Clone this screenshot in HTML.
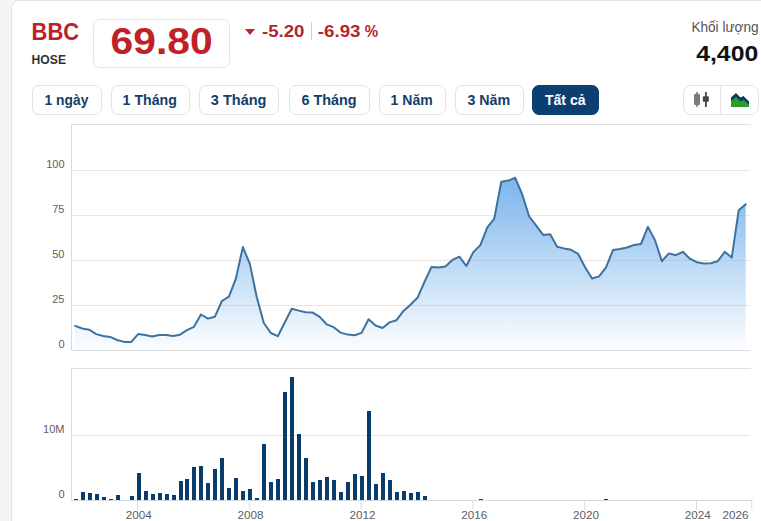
<!DOCTYPE html>
<html><head><meta charset="utf-8">
<style>
html,body{margin:0;padding:0;}
body{width:761px;height:521px;overflow:hidden;background:#f5f5f5;position:relative;font-family:"Liberation Sans",sans-serif;}
.card{position:absolute;left:11px;top:0;width:820px;height:600px;background:#fff;border:1px solid #e2e2e2;border-radius:8px;box-sizing:border-box;}
.pbox{position:absolute;left:93px;top:19px;width:137px;height:49px;border:1px solid #e6e6e6;border-radius:7px;box-sizing:border-box;}
.div{position:absolute;left:310.5px;top:22px;width:1px;height:18px;background:#d0d0d0;}
.tri{position:absolute;left:245px;top:28.5px;width:0;height:0;border-left:5.5px solid transparent;border-right:5.5px solid transparent;border-top:6px solid #c1232b;}
.btn{position:absolute;top:85px;height:29.5px;border:1px solid #e3e3e3;border-radius:7px;box-sizing:border-box;font-size:14px;font-weight:bold;color:#173f66;text-align:center;line-height:27px;background:#fff;}
.btn.on{background:#0b3f72;border-color:#0b3f72;color:#fff;}
.grp{position:absolute;left:683px;top:85px;width:75.5px;height:29.5px;border:1px solid #e3e3e3;border-radius:8px;box-sizing:border-box;}
.gdiv{position:absolute;left:720px;top:86px;width:1px;height:28px;background:#e3e3e3;}
svg{position:absolute;left:0;top:0;}
svg text{font-family:"Liberation Sans",sans-serif;}
svg text.ax{font-size:11px;fill:#606060;}
</style></head><body>
<div class="card"></div>
<div class="pbox"></div>
<div class="tri"></div>
<div class="div"></div>
<div class="btn" style="left:32px;width:69.5px"></div>
<div class="btn" style="left:110.5px;width:79px"></div>
<div class="btn" style="left:198.5px;width:80.5px"></div>
<div class="btn" style="left:288.5px;width:81px"></div>
<div class="btn" style="left:378.5px;width:67.5px"></div>
<div class="btn" style="left:454.5px;width:69px"></div>
<div class="btn on" style="left:532px;width:67px"></div>
<div class="grp"></div>
<div class="gdiv"></div>
<svg width="761" height="521" viewBox="0 0 761 521">
<defs>
<linearGradient id="ag" gradientUnits="userSpaceOnUse" x1="0" y1="177.8" x2="0" y2="350">
<stop offset="0" stop-color="#7cb5ec" stop-opacity="1"/>
<stop offset="1" stop-color="#7cb5ec" stop-opacity="0.02"/>
</linearGradient>
</defs>
<text x="31.60" y="39.80" font-size="23" font-weight="bold" fill="#c0202a" textLength="47.44" lengthAdjust="spacingAndGlyphs">BBC</text>
<text x="31.60" y="63.80" font-size="12" font-weight="bold" fill="#333333" textLength="34.42" lengthAdjust="spacingAndGlyphs">HOSE</text>
<text x="110.60" y="53.90" font-size="36" font-weight="bold" fill="#c0202a" textLength="102.09" lengthAdjust="spacingAndGlyphs">69.80</text>
<text x="262.00" y="36.80" font-size="16" font-weight="bold" fill="#b52430" textLength="42.47" lengthAdjust="spacingAndGlyphs">-5.20</text>
<text x="317.80" y="36.90" font-size="16" font-weight="bold" fill="#b52430" textLength="42.67" lengthAdjust="spacingAndGlyphs">-6.93</text>
<text x="364.80" y="36.90" font-size="16" font-weight="bold" fill="#b52430" textLength="13.43" lengthAdjust="spacingAndGlyphs">%</text>
<text x="691.40" y="31.70" font-size="14" font-weight="normal" fill="#555555" textLength="67.16" lengthAdjust="spacingAndGlyphs">Khối lượng</text>
<text x="696.20" y="60.70" font-size="22" font-weight="bold" fill="#111111" textLength="62.06" lengthAdjust="spacingAndGlyphs">4,400</text>
<text x="44.60" y="104.70" font-size="14" font-weight="bold" fill="#133e6a" textLength="43.76" lengthAdjust="spacingAndGlyphs">1 ngày</text>
<text x="122.60" y="104.70" font-size="14" font-weight="bold" fill="#133e6a" textLength="54.27" lengthAdjust="spacingAndGlyphs">1 Tháng</text>
<text x="210.80" y="104.70" font-size="14" font-weight="bold" fill="#133e6a" textLength="55.67" lengthAdjust="spacingAndGlyphs">3 Tháng</text>
<text x="301.40" y="104.70" font-size="14" font-weight="bold" fill="#133e6a" textLength="55.27" lengthAdjust="spacingAndGlyphs">6 Tháng</text>
<text x="390.60" y="104.70" font-size="14" font-weight="bold" fill="#133e6a" textLength="42.03" lengthAdjust="spacingAndGlyphs">1 Năm</text>
<text x="467.40" y="104.70" font-size="14" font-weight="bold" fill="#133e6a" textLength="42.83" lengthAdjust="spacingAndGlyphs">3 Năm</text>
<text x="545.00" y="104.70" font-size="14" font-weight="bold" fill="#ffffff" textLength="40.47" lengthAdjust="spacingAndGlyphs">Tất cả</text>
<!-- icons -->
<g>
<rect x="694" y="94" width="6" height="11" rx="1" fill="#7a7a7a"/>
<rect x="696.2" y="92" width="1.8" height="14.8" fill="#7a7a7a"/>
<rect x="702.8" y="96.2" width="6" height="5.6" rx="1" fill="#454545"/>
<rect x="705" y="92" width="1.8" height="15" fill="#454545"/>
</g>
<g>
<path d="M731,106.7 L731,97.5 L736,93 L740.5,97.5 L743.5,96 L749,101.5 L749,106.7 Z" fill="#0b3a66"/>
<path d="M731,106.7 L731,101 L736,97 L740.5,101.5 L743.5,100 L749,104.5 L749,106.7 Z" fill="#2a9e2a"/>
</g>
<!-- price chart -->
<line x1="72" y1="170.5" x2="750" y2="170.5" stroke="#e6e6e6" stroke-width="1"/>
<line x1="72" y1="215.5" x2="750" y2="215.5" stroke="#e6e6e6" stroke-width="1"/>
<line x1="72" y1="260.5" x2="750" y2="260.5" stroke="#e6e6e6" stroke-width="1"/>
<line x1="72" y1="305.5" x2="750" y2="305.5" stroke="#e6e6e6" stroke-width="1"/>

<line x1="71.5" y1="124.5" x2="751" y2="124.5" stroke="#dedede" stroke-width="1"/>
<line x1="71.5" y1="124" x2="71.5" y2="350.5" stroke="#d8dae0" stroke-width="1"/>
<line x1="71.5" y1="350.5" x2="750" y2="350.5" stroke="#dfdfdf" stroke-width="1"/>
<path d="M75.25,350 L75.25,325.90 L82.23,328.50 L89.22,329.70 L96.20,334.10 L103.19,336.00 L110.17,336.90 L117.15,340.00 L124.14,341.90 L131.12,342.10 L138.11,334.10 L145.09,335.10 L152.07,336.60 L159.06,335.10 L166.04,335.10 L173.03,336.10 L180.01,334.70 L186.99,330.10 L193.98,326.80 L200.96,314.50 L207.95,318.60 L214.93,316.70 L221.91,301.00 L228.90,296.60 L235.88,278.60 L242.87,247.10 L249.85,263.90 L256.83,297.50 L263.82,323.00 L270.80,333.00 L277.79,336.20 L284.77,322.50 L291.75,308.70 L298.74,310.60 L305.72,312.20 L312.71,312.60 L319.69,316.90 L326.67,324.30 L333.66,327.20 L340.64,332.60 L347.63,334.60 L354.61,335.30 L361.59,332.90 L368.58,319.20 L375.56,325.50 L382.55,328.00 L389.53,322.40 L396.51,320.20 L403.50,310.90 L410.48,304.70 L417.47,297.80 L424.45,282.00 L431.43,267.10 L438.42,267.50 L445.40,266.50 L452.39,259.90 L459.37,256.70 L466.35,266.00 L473.34,252.10 L480.32,245.10 L487.31,227.40 L494.29,218.60 L501.27,181.70 L508.26,180.60 L515.24,177.80 L522.23,194.50 L529.21,216.50 L536.19,225.70 L543.18,234.90 L550.16,234.20 L557.15,246.80 L564.13,248.40 L571.11,249.80 L578.10,253.80 L585.08,267.30 L592.07,278.50 L599.05,276.40 L606.03,267.40 L613.02,250.00 L620.00,249.00 L626.99,247.50 L633.97,245.00 L640.95,244.00 L647.94,226.90 L654.92,240.00 L661.91,261.20 L668.89,253.40 L675.87,255.20 L682.86,251.80 L689.84,258.70 L696.83,262.20 L703.81,263.50 L710.79,263.30 L717.78,261.20 L724.76,251.80 L731.75,257.60 L738.73,210.20 L745.71,204.30 L745.71,350 Z" fill="url(#ag)"/>
<polyline points="75.25,325.90 82.23,328.50 89.22,329.70 96.20,334.10 103.19,336.00 110.17,336.90 117.15,340.00 124.14,341.90 131.12,342.10 138.11,334.10 145.09,335.10 152.07,336.60 159.06,335.10 166.04,335.10 173.03,336.10 180.01,334.70 186.99,330.10 193.98,326.80 200.96,314.50 207.95,318.60 214.93,316.70 221.91,301.00 228.90,296.60 235.88,278.60 242.87,247.10 249.85,263.90 256.83,297.50 263.82,323.00 270.80,333.00 277.79,336.20 284.77,322.50 291.75,308.70 298.74,310.60 305.72,312.20 312.71,312.60 319.69,316.90 326.67,324.30 333.66,327.20 340.64,332.60 347.63,334.60 354.61,335.30 361.59,332.90 368.58,319.20 375.56,325.50 382.55,328.00 389.53,322.40 396.51,320.20 403.50,310.90 410.48,304.70 417.47,297.80 424.45,282.00 431.43,267.10 438.42,267.50 445.40,266.50 452.39,259.90 459.37,256.70 466.35,266.00 473.34,252.10 480.32,245.10 487.31,227.40 494.29,218.60 501.27,181.70 508.26,180.60 515.24,177.80 522.23,194.50 529.21,216.50 536.19,225.70 543.18,234.90 550.16,234.20 557.15,246.80 564.13,248.40 571.11,249.80 578.10,253.80 585.08,267.30 592.07,278.50 599.05,276.40 606.03,267.40 613.02,250.00 620.00,249.00 626.99,247.50 633.97,245.00 640.95,244.00 647.94,226.90 654.92,240.00 661.91,261.20 668.89,253.40 675.87,255.20 682.86,251.80 689.84,258.70 696.83,262.20 703.81,263.50 710.79,263.30 717.78,261.20 724.76,251.80 731.75,257.60 738.73,210.20 745.71,204.30" fill="none" stroke="#3e729d" stroke-width="2" stroke-linejoin="round" stroke-linecap="round"/>
<text x="64.5" y="167.9" text-anchor="end" class="ax">100</text>
<text x="64.5" y="212.9" text-anchor="end" class="ax">75</text>
<text x="64.5" y="258.0" text-anchor="end" class="ax">50</text>
<text x="64.5" y="303.0" text-anchor="end" class="ax">25</text>
<text x="64.5" y="348.0" text-anchor="end" class="ax">0</text>

<!-- volume chart -->
<line x1="72" y1="435.5" x2="750" y2="435.5" stroke="#e6e6e6" stroke-width="1"/>
<line x1="71.5" y1="368.5" x2="751" y2="368.5" stroke="#dfdfdf" stroke-width="1"/>
<line x1="71.5" y1="368" x2="71.5" y2="500.5" stroke="#d8dae0" stroke-width="1"/>
<line x1="71.5" y1="500.5" x2="752" y2="500.5" stroke="#d8dae0" stroke-width="1"/>
<g fill="#0a3c6b">
<rect x="74" y="499" width="4" height="1"/>
<rect x="81" y="492" width="4" height="8"/>
<rect x="88" y="493" width="4" height="7"/>
<rect x="95" y="494" width="4" height="6"/>
<rect x="102" y="497" width="4" height="3"/>
<rect x="109" y="499" width="4" height="1"/>
<rect x="116" y="495" width="4" height="5"/>
<rect x="130" y="496" width="4" height="4"/>
<rect x="137" y="473" width="4" height="27"/>
<rect x="144" y="491" width="4" height="9"/>
<rect x="151" y="494" width="4" height="6"/>
<rect x="158" y="493" width="4" height="7"/>
<rect x="165" y="494" width="4" height="6"/>
<rect x="172" y="495" width="4" height="5"/>
<rect x="179" y="481" width="4" height="19"/>
<rect x="185" y="479" width="4" height="21"/>
<rect x="192" y="467" width="4" height="33"/>
<rect x="199" y="466" width="4" height="34"/>
<rect x="206" y="483" width="4" height="17"/>
<rect x="213" y="469" width="4" height="31"/>
<rect x="220" y="458" width="4" height="42"/>
<rect x="227" y="488" width="4" height="12"/>
<rect x="234" y="478" width="4" height="22"/>
<rect x="241" y="491" width="4" height="9"/>
<rect x="248" y="489" width="4" height="11"/>
<rect x="255" y="498" width="4" height="2"/>
<rect x="262" y="444" width="4" height="56"/>
<rect x="269" y="482" width="4" height="18"/>
<rect x="276" y="479" width="4" height="21"/>
<rect x="283" y="392" width="4" height="108"/>
<rect x="290" y="377" width="4" height="123"/>
<rect x="297" y="434" width="4" height="66"/>
<rect x="304" y="458" width="4" height="42"/>
<rect x="311" y="482" width="4" height="18"/>
<rect x="318" y="480" width="4" height="20"/>
<rect x="325" y="477" width="4" height="23"/>
<rect x="332" y="480" width="4" height="20"/>
<rect x="339" y="492" width="4" height="8"/>
<rect x="346" y="482" width="4" height="18"/>
<rect x="353" y="474" width="4" height="26"/>
<rect x="360" y="476" width="4" height="24"/>
<rect x="367" y="411" width="4" height="89"/>
<rect x="374" y="484" width="4" height="16"/>
<rect x="381" y="473" width="4" height="27"/>
<rect x="388" y="480" width="4" height="20"/>
<rect x="395" y="492" width="4" height="8"/>
<rect x="402" y="491" width="4" height="9"/>
<rect x="409" y="493" width="4" height="7"/>
<rect x="416" y="492" width="4" height="8"/>
<rect x="423" y="496" width="4" height="4"/>
<rect x="479" y="499" width="4" height="1"/>
<rect x="604" y="499" width="4" height="1"/>
</g>
<text x="64.5" y="432.9" text-anchor="end" class="ax">10M</text>
<text x="64.5" y="497.9" text-anchor="end" class="ax">0</text>
<line x1="137.5" y1="500" x2="137.5" y2="509.5" stroke="#d8dae0" stroke-width="1"/>
<text x="138.8" y="518.7" text-anchor="middle" class="ax" textLength="26" lengthAdjust="spacingAndGlyphs">2004</text>
<line x1="249.3" y1="500" x2="249.3" y2="509.5" stroke="#d8dae0" stroke-width="1"/>
<text x="250.60000000000002" y="518.7" text-anchor="middle" class="ax" textLength="26" lengthAdjust="spacingAndGlyphs">2008</text>
<line x1="361.1" y1="500" x2="361.1" y2="509.5" stroke="#d8dae0" stroke-width="1"/>
<text x="362.40000000000003" y="518.7" text-anchor="middle" class="ax" textLength="26" lengthAdjust="spacingAndGlyphs">2012</text>
<line x1="472.9" y1="500" x2="472.9" y2="509.5" stroke="#d8dae0" stroke-width="1"/>
<text x="474.2" y="518.7" text-anchor="middle" class="ax" textLength="26" lengthAdjust="spacingAndGlyphs">2016</text>
<line x1="584.7" y1="500" x2="584.7" y2="509.5" stroke="#d8dae0" stroke-width="1"/>
<text x="586.0" y="518.7" text-anchor="middle" class="ax" textLength="26" lengthAdjust="spacingAndGlyphs">2020</text>
<line x1="696.5" y1="500" x2="696.5" y2="509.5" stroke="#d8dae0" stroke-width="1"/>
<text x="697.8" y="518.7" text-anchor="middle" class="ax" textLength="26" lengthAdjust="spacingAndGlyphs">2024</text>
<line x1="751.8" y1="500" x2="751.8" y2="509.5" stroke="#d8dae0" stroke-width="1"/>
<text x="748.5" y="518.7" text-anchor="end" class="ax" textLength="26" lengthAdjust="spacingAndGlyphs">2026</text>

</svg>
</body></html>
